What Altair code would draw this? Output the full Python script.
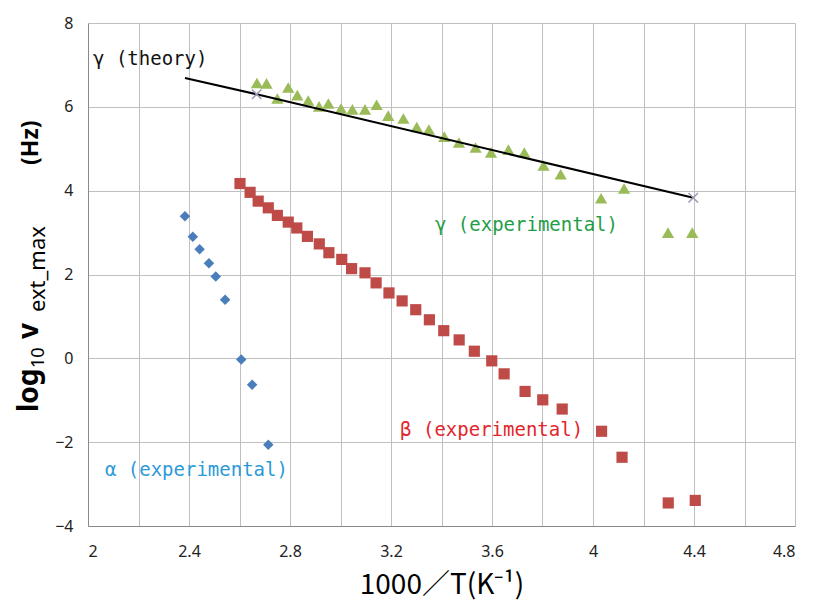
import altair as alt
import pandas as pd

# ---- data ----
alpha_x = [2.384, 2.415, 2.442, 2.479, 2.506, 2.543, 2.607, 2.650, 2.714]
alpha_y = [3.39, 2.90, 2.60, 2.27, 1.95, 1.40, -0.03, -0.63, -2.06]

beta_x = [2.602, 2.642, 2.674, 2.714, 2.750, 2.793, 2.827, 2.869, 2.916, 2.954,
          3.005, 3.044, 3.097, 3.141, 3.192, 3.244, 3.298, 3.352, 3.409, 3.470,
          3.530, 3.599, 3.648, 3.731, 3.801, 3.878, 4.034, 4.115, 4.298, 4.405]
beta_y = [4.17, 3.96, 3.75, 3.59, 3.41, 3.25, 3.11, 2.91, 2.73, 2.52,
          2.36, 2.14, 2.04, 1.80, 1.56, 1.37, 1.16, 0.92, 0.66, 0.44,
          0.17, -0.06, -0.37, -0.79, -0.99, -1.21, -1.74, -2.36, -3.45, -3.39]

gamma_x = [2.669, 2.707, 2.750, 2.793, 2.829, 2.872, 2.915, 2.952, 3.002, 3.047,
           3.097, 3.143, 3.189, 3.249, 3.302, 3.350, 3.411, 3.469, 3.535, 3.596,
           3.665, 3.728, 3.804, 3.872, 4.032, 4.123, 4.297, 4.393]
gamma_y = [6.57, 6.56, 6.20, 6.46, 6.28, 6.15, 6.01, 6.08, 5.96, 5.94,
           5.94, 6.05, 5.79, 5.72, 5.52, 5.46, 5.29, 5.15, 5.03, 4.91,
           4.98, 4.91, 4.60, 4.39, 3.82, 4.05, 3.00, 3.00]

theory_x = [2.384, 2.668, 4.397]
theory_y = [6.69, 6.30, 3.83]
theory_marker = [False, True, True]

label_text = ["γ (theory)", "γ  (experimental)", "α (experimental)", "β (experimental)"]
label_x = [2.02, 3.374, 2.067, 3.236]
label_y = [7.13, 3.19, -2.66, -1.70]
label_color = ["#111111", "#1f9e48", "#2c9ad8", "#e3262d"]

x_ticks = [2.0, 2.2, 2.4, 2.6, 2.8, 3.0, 3.2, 3.4, 3.6, 3.8, 4.0, 4.2, 4.4, 4.6, 4.8]
y_ticks = [-4, -2, 0, 2, 4, 6, 8]

# ---- frames ----
alpha = pd.DataFrame({"x": alpha_x, "y": alpha_y})
beta = pd.DataFrame({"x": beta_x, "y": beta_y})
gamma = pd.DataFrame({"x": gamma_x, "y": gamma_y})
theory = pd.DataFrame({"x": theory_x, "y": theory_y, "m": theory_marker})
labels = pd.DataFrame({"x": label_x, "y": label_y, "t": label_text, "c": label_color})

TICK_FONT = "Noto Sans"
xscale = alt.Scale(domain=[2, 4.8], nice=False, zero=False)
yscale = alt.Scale(domain=[-4, 8], nice=False, zero=False)

xaxis = alt.Axis(values=x_ticks, format="~g",
                 labelExpr="(round(datum.value*10) % 4 == 0) ? datum.label : ''",
                 title="1000／T(K⁻¹)", titleFont="Noto Sans CJK JP", titleFontSize=28,
                 titleFontWeight="normal", titleColor="#000000", titlePadding=12,
                 labelFont=TICK_FONT, labelFontSize=16, labelColor="#222222",
                 labelPadding=17, ticks=False, grid=True, gridColor="#bfbfbf",
                 gridWidth=1, domainColor="#8a8a8a", domainWidth=1)
yaxis = alt.Axis(values=y_ticks, title=None,
                 labelFont=TICK_FONT, labelFontSize=16, labelColor="#222222",
                 labelPadding=15, ticks=False, grid=True, gridColor="#bfbfbf",
                 gridWidth=1, domainColor="#8a8a8a", domainWidth=1)

X = alt.X("x:Q", scale=xscale, axis=xaxis)
Y = alt.Y("y:Q", scale=yscale, axis=yaxis)

alpha_pts = alt.Chart(alpha).mark_point(shape="diamond", filled=True, size=110,
                                        color="#4a7ebb", opacity=1).encode(x=X, y=Y)
beta_pts = alt.Chart(beta).mark_point(shape="square", filled=True, size=125,
                                      color="#be4b48", opacity=1).encode(x="x:Q", y="y:Q")
gamma_pts = alt.Chart(gamma).mark_point(shape="triangle-up", filled=True, size=150,
                                        color="#9bbb59", opacity=1).encode(x="x:Q", y="y:Q")
theory_line = alt.Chart(theory).mark_line(color="#000000", strokeWidth=2).encode(
    x="x:Q", y="y:Q", order="x:Q")
theory_pts = alt.Chart(theory).transform_filter("datum.m").mark_point(
    shape="M-1,-1L1,1M-1,1L1,-1", filled=False, size=90, color="#9a9ab4",
    strokeWidth=1.5, opacity=1).encode(x="x:Q", y="y:Q")

ann = alt.Chart(labels).mark_text(font="DejaVu Sans Mono", fontSize=19, align="left",
                                  baseline="middle").encode(
    x="x:Q", y="y:Q", text="t:N", color=alt.Color("c:N", scale=None))

one = pd.DataFrame({"a": [0]})
TF = "Noto Sans"


def ypiece(txt, px, py, size, weight):
    return alt.Chart(one).mark_text(text=txt, angle=270, align="left",
                                    baseline="alphabetic", font=TF, fontSize=size,
                                    fontWeight=weight, color="#000000").encode(
        x=alt.value(px), y=alt.value(py))


ytitle = [
    ypiece("log", -50, 389, 28, "bold"),
    ypiece("10", -44, 345, 18, "normal"),
    ypiece("v", -50, 316, 28, "bold"),
    ypiece("ext_max", -43, 289, 22, "normal"),
    ypiece("(Hz)", -50, 142, 23, "bold"),
]

chart = alt.layer(alpha_pts, gamma_pts, beta_pts, theory_line, theory_pts, ann,
                  *ytitle).properties(
    width=707, height=503,
    autosize=alt.AutoSizeParams(type="none"),
    padding={"left": 80, "top": 15, "right": 10, "bottom": 76},
).configure_view(strokeWidth=0)

chart.save("out.html", embed_options={"renderer": "svg", "actions": False})
